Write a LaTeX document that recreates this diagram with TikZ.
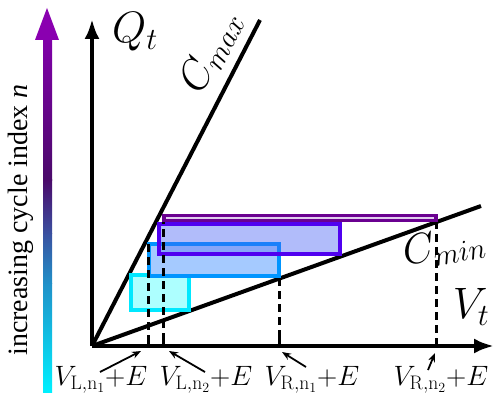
\RequirePackage{fix-cm}
\documentclass[tikz,border=0pt]{standalone}
\usepackage{fontspec}
\newfontfamily\timesf{Liberation Serif}
\usetikzlibrary{arrows.meta}
\definecolor{g0}{HTML}{00F0FF}
\definecolor{g1}{HTML}{2090C8}
\definecolor{g2}{HTML}{3A50A0}
\definecolor{g3}{HTML}{4A0A6A}
\definecolor{g4}{HTML}{8000A8}
\definecolor{g5}{HTML}{8A00B0}
\definecolor{rcyan}{HTML}{00E8FF}
\definecolor{rblue}{HTML}{0095FF}
\definecolor{rviol}{HTML}{5000F0}
\definecolor{rpurp}{HTML}{6A0090}
\definecolor{cfc}{RGB}{173,255,255}
\definecolor{cfb}{RGB}{165,202,255}
\definecolor{cfv}{RGB}{177,188,250}
\definecolor{cfo}{RGB}{134,166,248}
\definecolor{blueblend}{RGB}{26,128,250}
\definecolor{innerpurp}{RGB}{224,204,238}
\tikzset{
  axisline/.style={line width=4pt, -{Latex[length=20pt,width=15pt]}},
  capline/.style={line width=4pt},
  cycrect/.style={line width=4pt},
  dashline/.style={line width=3pt, dash pattern=on 8pt off 5pt},
  tickmark/.style={line width=3pt},
  lblarrow/.style={line width=1.8pt, -{Stealth[length=9pt,width=7pt]}},
  vlabel/.style={anchor=base, inner sep=0pt, font=\fontsize{28}{30}\selectfont},
  biglabel/.style={inner sep=0pt, font=\fontsize{44}{48}\selectfont},
  clabel/.style={inner sep=0pt, font=\fontsize{42}{46}\selectfont}
}
\begin{document}
\begin{tikzpicture}[x=1pt,y=-1pt]
\useasboundingbox (0,0) rectangle (494,403);
% gradient arrow
\shade[bottom color=g0, top color=g1] (43,392) rectangle (52,283);
\shade[bottom color=g1, top color=g2] (43,283.5) rectangle (52,233);
\shade[bottom color=g2, top color=g3] (43,233.5) rectangle (52,180);
\shade[bottom color=g3, top color=g4] (43,180.5) rectangle (52,39);
\fill[g5] (35,40) -- (59,40) -- (47,8) -- cycle;
\node[rotate=90, inner sep=0pt, font=\timesf\fontsize{28}{30}\selectfont] (idx) at (21,220) {increasing cycle index \textit{n}};
% axes
\coordinate (O) at (92,346);
\coordinate (ytop) at (92,19);
\coordinate (xend) at (494,346);
\coordinate (cmaxend) at (260,20);
\coordinate (cminend) at (481,206);
\draw[capline] (O) -- (cmaxend);
\draw[capline] (O) -- (cminend);
% rectangles
\fill[cfc] (131,275) rectangle (189,310);
\draw[cycrect, draw=rcyan] (131,275) rectangle (189,310);
\fill[cfb] (149,244) rectangle (279,276);
\draw[cycrect, draw=rblue] (149,244) rectangle (279,276);
\fill[cfv] (159,224) rectangle (340,254);
\fill[cfo] (161,246) rectangle (277,252);
\draw[cycrect, draw=blueblend] (161,244) -- (279,244) -- (279,252);
\draw[cycrect, draw=rviol] (159,224) rectangle (340,254);
% dashed lines
\coordinate (d1) at (148,244);
\coordinate (d2) at (163,216);
\coordinate (d3) at (279,278);
\coordinate (d4) at (436,221);
\coordinate (t1) at (148,346);
\coordinate (t2) at (163,346);
\coordinate (t3) at (279,346);
\coordinate (t4) at (436,346);
\draw[dashline] (d1) -- (t1);
\draw[dashline] (d2) -- (t2);
\draw[dashline] (d3) -- (t3);
\draw[dashline] (d4) -- (t4);
\draw[line width=3.6pt, draw=rpurp, fill=innerpurp] (164,215.5) rectangle (436,220.5);
\foreach \t in {t1,t2,t3,t4} \draw[tickmark] (\t) -- ++(0,-8);
\draw[axisline] (O) -- (ytop);
\draw[axisline] (O) -- (xend);
% labels
\node[biglabel] (Q) at (135,32) {$Q_t$};
\node[biglabel] (V) at (471,307) {$V_t$};
\node[clabel, rotate=62.7] (cmax) at (211,52) {$C_{max}$};
\node[clabel, rotate=10] (cmin) at (444,247) {$C_{min}$};
\node[vlabel] (L1) at (101,385) {$V_{\mathrm{L},\mathrm{n}_1}{+}E$};
\node[vlabel] (L2) at (206,385) {$V_{\mathrm{L},\mathrm{n}_2}{+}E$};
\node[vlabel] (L3) at (312,385) {$V_{\mathrm{R},\mathrm{n}_1}{+}E$};
\node[vlabel] (L4) at (441,385) {$V_{\mathrm{R},\mathrm{n}_2}{+}E$};
\coordinate (a1s) at (100,372);
\coordinate (a1e) at (141,351);
\coordinate (a2s) at (205,372);
\coordinate (a2e) at (169,351);
\coordinate (a3s) at (306,367);
\coordinate (a3e) at (282,352);
\coordinate (a4s) at (428,370);
\coordinate (a4e) at (435,353);
\draw[lblarrow] (a1s) -- (a1e);
\draw[lblarrow] (a2s) -- (a2e);
\draw[lblarrow] (a3s) -- (a3e);
\draw[lblarrow] (a4s) -- (a4e);
\end{tikzpicture}
\end{document}
